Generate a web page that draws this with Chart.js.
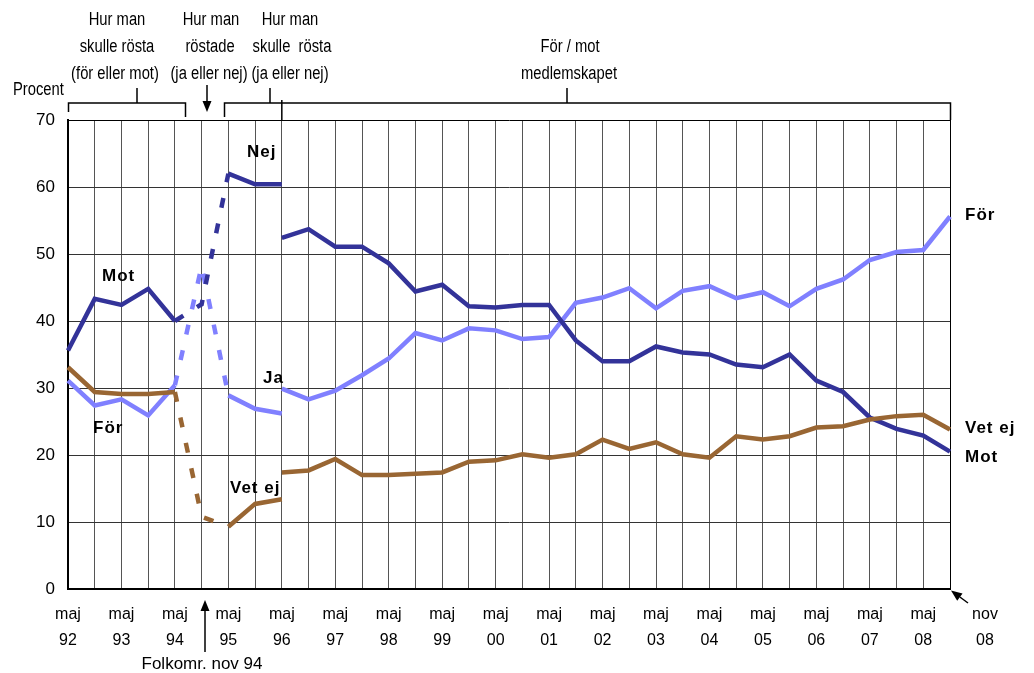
<!DOCTYPE html>
<html>
<head>
<meta charset="utf-8">
<script src="https://cdn.jsdelivr.net/npm/chart.js"></script>
<style>
  body { margin: 0; background: #fff; }
  #wrap { width: 1034px; height: 673px; }
</style>
</head>
<body>
<div id="wrap"><canvas id="myChart" width="1034" height="673"></canvas></div>
<script>
// halvår maj 92 .. nov 08
var perioder = ['maj 92','nov 92','maj 93','nov 93','maj 94','nov 94','maj 95','nov 95','maj 96','nov 96',
  'maj 97','nov 97','maj 98','nov 98','maj 99','nov 99','maj 00','nov 00','maj 01','nov 01',
  'maj 02','nov 02','maj 03','nov 03','maj 04','nov 04','maj 05','nov 05','maj 06','nov 06',
  'maj 07','nov 07','maj 08','nov 08']

// för / mot medlemskapet (procent)
var mot = [35.6, 43.3, 42.4, 44.8, 40.0, null, null, null, 52.4, 53.7, 51.1, 51.1, 48.6, 44.4, 45.4, 42.2, 42.0,
  42.4, 42.4, 37.1, 34.0, 34.0, 36.2, 35.3, 35.0, 33.5, 33.1, 35.0, 31.1, 29.4, 25.6, 23.9, 22.9, 20.5]
var foer = [31.1, 27.4, 28.3, 25.9, 30.4, null, null, null, 29.9, 28.3, 29.6, 31.9, 34.4, 38.2, 37.1, 38.9, 38.6,
  37.3, 37.6, 42.7, 43.5, 44.9, 41.9, 44.5, 45.2, 43.4, 44.3, 42.2, 44.8, 46.2, 49.1, 50.3, 50.6, 55.6]
var vetej = [33.1, 29.4, 29.1, 29.1, 29.4, null, null, null, 17.4, 17.7, 19.4, 17.0, 17.0, 17.2, 17.4, 19.0, 19.2,
  20.1, 19.6, 20.1, 22.3, 20.9, 21.9, 20.1, 19.6, 22.8, 22.3, 22.8, 24.1, 24.3, 25.3, 25.8, 26.0, 23.8]

// ja / nej, maj 95 - maj 96
var nej = [62.0, 60.4, 60.4]
var ja = [28.9, 26.9, 26.2]
var vetejFolk = [9.3, 12.7, 13.4]

// streckat kring folkomröstningen, maj 94 - maj 95
var motStreck = [40.0, 42.5, 62.0]
var foerStreck = [30.4, 48.2, 28.9]
var vetejStreck = [29.4, 10.8, 9.3]

var MORK = '#333399', LJUS = '#8080ff', BRUN = '#996633'
var fam = '"Liberation Sans", Arial, sans-serif'

function placera(values, start) {
  var arr = perioder.map(function () { return null })
  values.forEach(function (v, i) { arr[start + i] = v })
  return arr
}

function linje(data, color, dashed) {
  return {
    data: data,
    borderColor: color,
    borderWidth: 4.5,
    borderDash: dashed ? [10, 16] : [],
    pointRadius: 0,
    tension: 0,
    spanGaps: false,
    fill: false
  }
}

// smal text (Arial Narrow-liknande)
function smal(c, txt, x, y, align) {
  c.save()
  c.translate(x, y)
  c.scale(0.82, 1)
  c.textAlign = align || 'center'
  c.fillText(txt, 0, 0)
  c.restore()
}

var texter = {
  id: 'texter',
  afterDraw: function (chart) {
    var c = chart.ctx
    var x = chart.scales.x
    c.save()
    // serie-etiketter
    c.fillStyle = '#000'
    c.font = 'bold 17px ' + fam
    c.letterSpacing = '1px'
    c.textBaseline = 'middle'
    c.textAlign = 'left'
    c.fillText('Mot', 102, 276)
    c.fillText('För', 93, 428)
    c.fillText('Nej', 247, 152)
    c.fillText('Ja', 263, 378)
    c.fillText('Vet ej', 230, 488)
    c.fillText('För', 965, 215)
    c.fillText('Vet ej', 965, 428)
    c.fillText('Mot', 965, 457)
    c.letterSpacing = '0px'

    // rubriker ovanför
    c.font = '18px ' + fam
    smal(c, 'Hur man', 117, 20)
    smal(c, 'skulle rösta', 117, 47)
    smal(c, '(för eller mot)', 115, 74)
    smal(c, 'Hur man', 211, 20)
    smal(c, 'röstade', 210, 47)
    smal(c, '(ja eller nej)', 209, 74)
    smal(c, 'Hur man', 290, 20)
    smal(c, 'skulle  rösta', 292, 47)
    smal(c, '(ja eller nej)', 290, 74)
    smal(c, 'För / mot', 570, 47)
    smal(c, 'medlemskapet', 569, 74)
    smal(c, 'Procent', 13, 90, 'left')
    c.font = '17px ' + fam
    c.textAlign = 'center'
    c.fillText('Folkomr. nov 94', 202, 664)
    c.font = '16px ' + fam
    c.fillText('nov', 985, 615)
    c.fillText('08', 985, 641)

    // klamrar
    c.strokeStyle = '#000'
    c.lineWidth = 1.5
    c.beginPath()
    c.moveTo(68.5, 112); c.lineTo(68.5, 103); c.lineTo(185.5, 103); c.lineTo(185.5, 117)
    c.moveTo(137, 88); c.lineTo(137, 103)
    var x8 = x.getPixelForValue(8)
    c.moveTo(224.5, 117); c.lineTo(224.5, 103); c.lineTo(950.5, 103); c.lineTo(950.5, 120)
    c.moveTo(270, 88); c.lineTo(270, 103)
    c.moveTo(567, 88); c.lineTo(567, 103)
    c.moveTo(x8, 100); c.lineTo(x8, 120)
    c.stroke()

    // pilar
    pil(c, 207, 85, 207, 112)
    pil(c, 205, 652, 205, 600)
    pil(c, 968, 603, 951, 590.5)
    c.restore()
  }
}

function pil(c, x1, y1, x2, y2) {
  var a = Math.atan2(y2 - y1, x2 - x1)
  var len = 11, w = 4.5
  var bx = x2 - Math.cos(a) * len, by = y2 - Math.sin(a) * len
  c.beginPath()
  c.moveTo(x1, y1); c.lineTo(bx, by)
  c.lineWidth = 1.5
  c.stroke()
  c.beginPath()
  c.moveTo(x2, y2)
  c.lineTo(bx - Math.sin(a) * w, by + Math.cos(a) * w)
  c.lineTo(bx + Math.sin(a) * w, by - Math.cos(a) * w)
  c.closePath()
  c.fillStyle = '#000'
  c.fill()
}

var ctx = document.getElementById('myChart')
var chart = new Chart(ctx, {
  type: 'line',
  data: {
    labels: perioder,
    datasets: [
      linje(vetej, BRUN),
      linje(placera(vetejFolk, 6), BRUN),
      linje(placera(vetejStreck, 4), BRUN, true),
      linje(mot, MORK),
      linje(placera(nej, 6), MORK),
      linje(placera(motStreck, 4), MORK, true),
      linje(foer, LJUS),
      linje(placera(ja, 6), LJUS),
      linje(placera(foerStreck, 4), LJUS, true)
    ]
  },
  options: {
    responsive: false,
    animation: false,
    devicePixelRatio: 1,
    layout: { padding: { left: 0, top: 120, right: 84, bottom: 0 } },
    plugins: {
      legend: { display: false },
      tooltip: { enabled: false }
    },
    scales: {
      x: {
        type: 'category',
        offset: false,
        afterFit: function (scale) { scale.height = 84 },
        grid: {
          offset: false,
          drawTicks: false,
          lineWidth: 1,
          color: function (c) { return c.index === perioder.length - 1 ? '#000' : '#555' }
        },
        border: { display: true, color: '#000', width: 2 },
        ticks: {
          autoSkip: false,
          maxRotation: 0,
          minRotation: 0,
          padding: 12,
          color: '#000',
          font: { family: fam, size: 16, lineHeight: 1.65 },
          callback: function (v, i) {
            if (i % 2 === 0) return perioder[i].split(' ')
            return ''
          }
        }
      },
      y: {
        min: 0,
        max: 70,
        afterFit: function (scale) { scale.width = 68 },
        grid: {
          drawTicks: false,
          lineWidth: 1,
          color: function (c) { return c.tick && c.tick.value === 70 ? '#000' : '#333' }
        },
        border: { display: true, color: '#000', width: 2 },
        ticks: {
          stepSize: 10,
          padding: 13,
          color: '#000',
          font: { family: fam, size: 17 }
        }
      }
    }
  },
  plugins: [texter]
})
</script>
</body>
</html>
